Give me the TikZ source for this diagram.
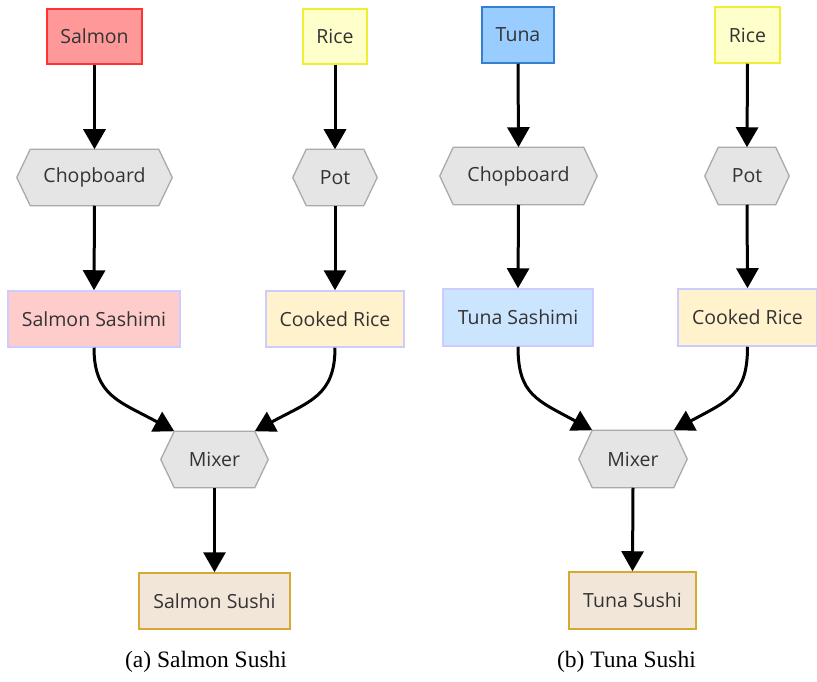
\documentclass[tikz,border=0pt]{standalone}
\usepackage{fontspec}
\setmainfont{Liberation Serif}
\newfontfamily\boxfont{Open Sans}
\usetikzlibrary{arrows.meta,calc}
\pgfdeclarelayer{background}
\pgfsetlayers{background,main}

\definecolor{txt}{HTML}{333333}
\definecolor{salmonfill}{HTML}{FF9999}
\definecolor{salmonline}{HTML}{FF3333}
\definecolor{ricefill}{HTML}{FFFFCC}
\definecolor{riceline}{HTML}{EEEE33}
\definecolor{tunafill}{HTML}{99CCFF}
\definecolor{tunaline}{HTML}{3380D0}
\definecolor{toolfill}{HTML}{E5E5E5}
\definecolor{toolline}{HTML}{AAAAAA}
\definecolor{sashimifillA}{HTML}{FFCCCC}
\definecolor{sashimifillB}{HTML}{CCE5FF}
\definecolor{cookedfill}{HTML}{FFF2CC}
\definecolor{midline}{HTML}{CCCCFF}
\definecolor{sushifill}{HTML}{F2E6D9}
\definecolor{sushiline}{HTML}{D4AA33}

\tikzset{
  box/.style={rectangle, inner sep=0pt, line width=1.5pt, text=txt,
    font=\boxfont\fontsize{19.5}{23}\selectfont, minimum height=55pt},
  tool/.style={box, draw=none},
  hexline/.style={draw=toolline, fill=toolfill, line width=1.3pt, line join=miter},
  flow/.style={draw=black, line width=3pt, -{Triangle[length=20pt,width=22pt]}},
  caption/.style={font=\fontsize{23.5}{28}\selectfont, text=black, inner sep=0pt}
}

\begin{document}
\begin{tikzpicture}[x=1pt, y=-1pt]
\useasboundingbox (0,0) rectangle (817,682);

% ---- (a) Salmon sushi ----
\node[box, draw=salmonline, fill=salmonfill, minimum width=95pt] (salmon) at (94.5,36.5) {Salmon};
\node[box, draw=riceline, fill=ricefill, minimum width=64pt] (riceA) at (335,36.5) {Rice};
\node[tool, minimum width=127pt] (chopA) at (94.5,177.5) {Chopboard};
\node[tool, minimum width=56pt] (potA) at (335,177.5) {Pot};
\node[box, draw=midline, fill=sashimifillA, minimum width=172pt, minimum height=56pt] (sashA) at (94,319) {Salmon Sashimi};
\node[box, draw=midline, fill=cookedfill, minimum width=138pt, minimum height=56pt] (cookA) at (335,319) {Cooked Rice};
\node[tool, minimum width=79pt] (mixA) at (214.5,459.5) {Mixer};
\node[box, draw=sushiline, fill=sushifill, minimum width=151pt, minimum height=56pt] (sushiA) at (214.5,601) {Salmon Sushi};
\node[caption] (capA) at (206,662) {(a) Salmon Sushi};

% ---- (b) Tuna sushi ----
\node[box, draw=tunaline, fill=tunafill, minimum width=72pt, minimum height=56pt] (tuna) at (518,35) {Tuna};
\node[box, draw=riceline, fill=ricefill, minimum width=65pt, minimum height=56pt] (riceB) at (747.5,35) {Rice};
\node[tool, minimum width=129pt, minimum height=56pt] (chopB) at (518.5,176) {Chopboard};
\node[tool, minimum width=56pt, minimum height=56pt] (potB) at (747,176) {Pot};
\node[box, draw=midline, fill=sashimifillB, minimum width=150pt, minimum height=57pt] (sashB) at (518,317.5) {Tuna Sashimi};
\node[box, draw=midline, fill=cookedfill, minimum width=139pt, minimum height=57pt] (cookB) at (747.5,317.5) {Cooked Rice};
\node[tool, minimum width=80pt, minimum height=56pt] (mixB) at (633,459) {Mixer};
\node[box, draw=sushiline, fill=sushifill, minimum width=127pt, minimum height=57pt] (sushiB) at (632.5,600.5) {Tuna Sushi};
\node[caption] (capB) at (626.5,662) {(b) Tuna Sushi};

% hexagonal outlines of the tool nodes, behind their labels
\begin{pgfonlayer}{background}
\foreach \n in {chopA,potA,mixA,chopB,potB,mixB}
  \path[hexline] (\n.north west) -- (\n.north east) -- ([xshift=13.5pt]\n.east)
    -- (\n.south east) -- (\n.south west) -- ([xshift=-13.5pt]\n.west) -- cycle;
\end{pgfonlayer}

% ---- connectors ----
\draw[flow] (salmon.south) -- (chopA.north);
\draw[flow] (chopA.south) -- (sashA.north);
\draw[flow] (riceA.south) -- (potA.north);
\draw[flow] (potA.south) -- (cookA.north);
\draw[flow] (sashA.south) .. controls ($(sashA.south)+(0,48)$) and ($(mixA.north west)+(-55,-30)$) .. (mixA.north west);
\draw[flow] (cookA.south) .. controls ($(cookA.south)+(0,48)$) and ($(mixA.north east)+(55,-30)$) .. (mixA.north east);
\draw[flow] (mixA.south) -- (sushiA.north);

\draw[flow] (tuna.south) -- (chopB.north);
\draw[flow] (chopB.south) -- (sashB.north);
\draw[flow] (riceB.south) -- (potB.north);
\draw[flow] (potB.south) -- (cookB.north);
\draw[flow] (sashB.south) .. controls ($(sashB.south)+(0,48)$) and ($(mixB.north west)+(-55,-30)$) .. (mixB.north west);
\draw[flow] (cookB.south) .. controls ($(cookB.south)+(0,48)$) and ($(mixB.north east)+(55,-30)$) .. (mixB.north east);
\draw[flow] (mixB.south) -- (sushiB.north);
\end{tikzpicture}
\end{document}
